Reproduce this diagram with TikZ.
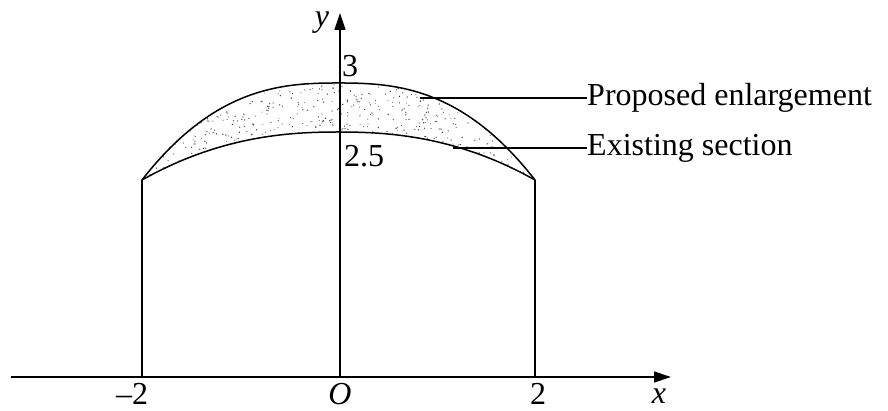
\documentclass[tikz,border=0pt]{standalone}
\usepackage{fontspec}
\setmainfont{Liberation Serif}
\usetikzlibrary{arrows.meta}
\begin{document}
\begin{tikzpicture}[x=1pt,y=-1pt,
  axis/.style={line width=1.3pt,-{Triangle[length=17pt,width=11pt]}},
  thin line/.style={line width=1.1pt},
  curve/.style={line width=1.5pt},
  lbl/.style={font=\fontsize{32}{36}\selectfont, inner sep=0pt, anchor=base},
  bottomlbl/.style={lbl, text depth=0pt},
  leader/.style={line width=1.2pt}]
\useasboundingbox (0,0) rectangle (888,411);
% key points
\coordinate (xs) at (11,377);
\coordinate (xe) at (671,377);
\coordinate (O) at (340,377);
\coordinate (ye) at (340,13);
\coordinate (Lb) at (142,377);
\coordinate (Lt) at (142,180);
\coordinate (Rb) at (535,377);
\coordinate (Rt) at (535,180);
\coordinate (p1) at (420,98);
\coordinate (e1) at (453,148);
% shaded region with random dots
\begin{scope}
\clip plot[domain=-196.5:196.5,samples=100] ({338.5+\x},{83+97*pow(abs(\x)/196.5,2.6)})
  -- plot[domain=196.5:-196.5,samples=100] ({338.5+\x},{132+48*pow(abs(\x)/196.5,2.3)}) -- cycle;
\pgfmathsetseed{7}
\foreach \i in {1,...,850}{
  \pgfmathsetmacro\rx{142+393*rnd}
  \pgfmathsetmacro\ry{83+97*rnd}
  \pgfmathsetmacro\rc{35+50*rnd}
  \fill[black!\rc] (\rx,\ry) circle (0.7);
}
\end{scope}
% curves
\draw[curve] plot[domain=-196.5:196.5,samples=100] ({338.5+\x},{83+97*pow(abs(\x)/196.5,2.6)});
\draw[curve] plot[domain=-196.5:196.5,samples=100] ({338.5+\x},{132+48*pow(abs(\x)/196.5,2.3)});
% verticals
\draw[thin line] (Lb) -- (Lt);
\draw[thin line] (Rb) -- (Rt);
% axes
\draw[axis] (xs) -- (xe);
\draw[axis] (O) -- (ye);
% labels
\node[lbl] (ylab) at (322,27) {\itshape y};
\node[bottomlbl] (xlab) at (659,403) {\itshape x};
\node[lbl] (three) at (350,77) {3};
\node[lbl] (twofive) at (364,167) {2.5};
\node[bottomlbl] (m2) at (132,404) {–2};
\node[bottomlbl] (olab) at (340,404) {\itshape O};
\node[bottomlbl] (p2) at (538,404) {2};
\node[lbl, anchor=base west] (prop) at (587,106) {Proposed enlargement};
\node[lbl, anchor=base west] (exist) at (587,156) {Existing section};
\draw[leader] (p1) -- (prop.west |- p1);
\draw[leader] (e1) -- (exist.west |- e1);
\end{tikzpicture}
\end{document}
